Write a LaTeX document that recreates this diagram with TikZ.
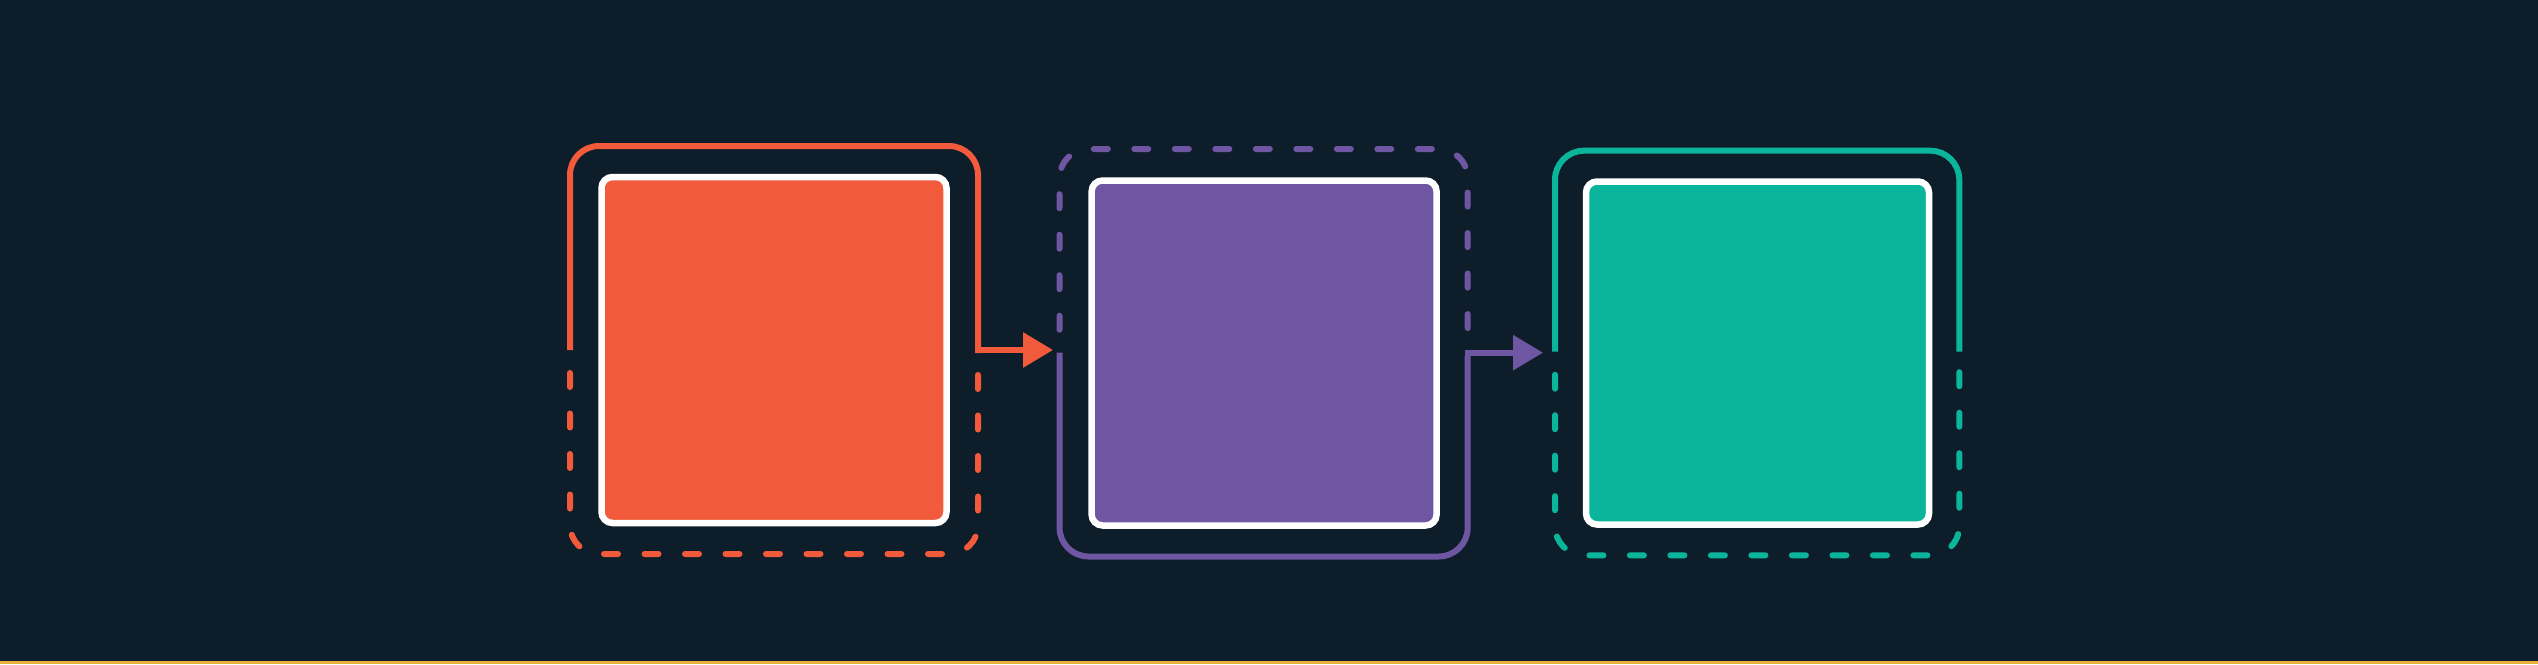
\documentclass[tikz,border=0pt]{standalone}
\usetikzlibrary{arrows.meta}
\definecolor{bg}{HTML}{0D1E2A}
\definecolor{cOrange}{HTML}{F15A3B}
\definecolor{cPurple}{HTML}{6F56A3}
\definecolor{cGreen}{HTML}{0AB59C}
\definecolor{cYellow}{HTML}{E9B13A}
\begin{document}
\begin{tikzpicture}[x=1pt,y=-1pt,
  card/.style={draw=white, line width=6.5pt, rounded corners=11pt, inner sep=0pt, minimum width=345pt, minimum height=345pt},
  frame/.style={line width=6pt, rounded corners=29pt},
  dashfrm/.style={frame, line cap=round, dash pattern=on 14pt off 26.5pt, dash phase=17.5pt},
  link/.style={line width=6pt, -{Triangle[length=30pt,width=34pt]}}]
\useasboundingbox (0,0) rectangle (2538,664);
\fill[bg] (0,0) rectangle (2538,664);
\fill[cYellow] (0,660.5) rectangle (2538,664);

% cards
\node[card, fill=cOrange, minimum height=346pt] (c1) at (774,350) {};
\node[card, fill=cPurple] (c2) at (1264.1,353) {};
\node[card, fill=cGreen, minimum width=343pt, minimum height=343pt] (c3) at (1757.5,353) {};

% orange frame
\draw[frame, cOrange] (570,350) -- (570,146) -- (978,146) -- (978,353);
\draw[dashfrm, cOrange] (570,350) -- (570,554) -- (978,554) -- (978,350);
% purple frame
\draw[dashfrm, cPurple] (1059.5,352.7) -- (1059.5,149) -- (1467.7,149) -- (1467.7,352.7);
\draw[frame, cPurple] (1059.5,352.7) -- (1059.5,556.5) -- (1467.7,556.5) -- (1467.7,355.7);
% green frame
\draw[frame, cGreen] (1555,351.7) -- (1555,150.7) -- (1959.3,150.7) -- (1959.3,351.7);
\draw[dashfrm, cGreen] (1555,351.7) -- (1555,555.3) -- (1959.3,555.3) -- (1959.3,351.7);

% connectors
\coordinate (o1) at (975,350);
\coordinate (o2) at (1053,350);
\coordinate (p1) at (1464.7,352.7);
\coordinate (p2) at (1543,352.7);
\draw[link, cOrange] (o1) -- (o2);
\draw[link, cPurple] (p1) -- (p2);
\end{tikzpicture}
\end{document}
